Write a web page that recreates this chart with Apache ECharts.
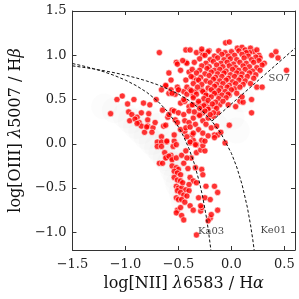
<!DOCTYPE html>
<html><head><meta charset="utf-8">
<script src="https://cdn.jsdelivr.net/npm/echarts@6/dist/echarts.min.js"></script>
<style>html,body{margin:0;padding:0;background:#fff}#c{width:299px;height:299px}</style>
</head><body><div id="c"></div>
<script>
// Axis ranges and ticks
var xTicks = [-1.5, -1.0, -0.5, 0.0, 0.5];
var yTicks = [-1.0, -0.5, 0.0, 0.5, 1.0, 1.5];

// Galaxies (red points): [log NII/Ha, log OIII/Hb]
var galaxies = [
[-1.14,0.34],[-1.08,0.50],[-1.03,0.54],[-0.92,0.50],[-0.98,0.45],[-0.97,0.36],[-0.94,0.33],[-0.89,0.30],[-0.85,0.35],[-0.78,0.34],[-0.83,0.46],[-0.77,0.44],
[-0.62,0.65],[-0.59,0.57],[-0.96,0.26],[-0.91,0.28],[-0.87,0.24],[-0.85,0.20],[-0.89,0.23],[-0.79,0.27],[-0.79,0.20],[-0.74,0.18],[-0.75,0.13],[-0.72,0.24],
[-0.82,0.13],[-0.80,0.19],[-0.64,0.20],[-0.66,0.08],[-0.70,0.02],[-0.66,0.02],[-0.70,-0.03],[-0.66,-0.03],[-0.61,0.02],[-0.63,-0.10],[-0.61,-0.15],[-0.57,-0.13],
[-0.56,-0.16],[-0.55,-0.03],[-0.60,0.30],[-0.56,0.38],
[-0.68,-0.22],[-0.65,-0.22],[-0.62,-0.16],[-0.59,-0.14],[-0.56,-0.18],[-0.52,-0.16],[-0.61,0.03],[-0.54,0.03],[-0.52,-0.01],
[-0.56,-0.25],[-0.52,-0.27],[-0.50,-0.29],[-0.54,-0.31],[-0.51,-0.33],[-0.48,-0.35],[-0.54,-0.38],[-0.51,-0.41],[-0.48,-0.42],
[-0.52,-0.48],[-0.50,-0.50],[-0.47,-0.50],[-0.43,-0.52],[-0.40,-0.53],[-0.51,-0.53],[-0.48,-0.55],[-0.45,-0.58],[-0.42,-0.59],
[-0.52,-0.61],[-0.50,-0.63],[-0.47,-0.63],[-0.51,-0.75],[-0.48,-0.72],[-0.52,-0.78],[-0.47,-0.81],[-0.45,-0.86],
[-0.39,-0.70],[-0.36,-0.75],[-0.29,-0.76],[-0.28,-0.72],[-0.25,-0.61],[-0.20,-0.63],[-0.31,-0.61],[-0.29,-0.70],
[-0.24,-0.48],[-0.16,-0.48],[-0.13,-0.55],[-0.13,-0.75],[-0.20,-0.84],[-0.22,-0.87],[-0.19,-0.80],[-0.33,-1.03],
[-0.39,-0.38],[-0.36,-0.42],[-0.33,-0.44],[-0.34,-0.27],[-0.28,-0.29],[-0.27,-0.35],
[-0.38,-0.16],[-0.33,-0.10],[-0.29,-0.07],[-0.25,-0.08],[-0.27,-0.02],[-0.33,-0.01],[-0.39,0.01],[-0.36,0.04],[-0.28,0.04],[-0.25,0.03],
[-0.47,-0.13],[-0.43,-0.08],[-0.42,-0.16],[-0.45,-0.22],[-0.41,-0.28],[-0.46,-0.44],[-0.44,-0.66],[-0.40,-0.46],
[-0.57,0.61],[-0.53,0.56],[-0.50,0.61],[-0.45,0.59],[-0.42,0.56],[-0.37,0.58],[-0.36,0.54],[-0.28,0.61],[-0.25,0.58],[-0.22,0.54],[-0.17,0.59],[-0.13,0.56],
[-0.48,0.46],[-0.44,0.48],[-0.40,0.42],[-0.36,0.44],[-0.31,0.46],[-0.28,0.42],[-0.24,0.46],[-0.21,0.41],[-0.16,0.42],[-0.11,0.44],
[-0.54,0.37],[-0.50,0.35],[-0.45,0.33],[-0.40,0.37],[-0.36,0.29],[-0.31,0.33],[-0.27,0.35],[-0.22,0.29],[-0.17,0.31],[-0.13,0.35],
[-0.53,0.27],[-0.44,0.26],[-0.40,0.24],[-0.34,0.22],[-0.27,0.26],[-0.24,0.22],[-0.19,0.18],[-0.14,0.20],
[-0.54,0.10],[-0.44,0.14],[-0.37,0.10],[-0.31,0.16],[-0.27,0.12],[-0.22,0.09],[-0.16,0.10],[-0.13,0.10],[-0.02,0.21],[-0.06,0.01],
[-0.62,0.21],[-0.51,0.24],[-0.48,0.16],[-0.43,0.18],[-0.39,0.19],[-0.36,0.12],[-0.42,0.08],[-0.39,0.02],[-0.34,-0.01],[-0.10,0.13],[-0.16,0.07],
[0.04,0.42],[0.08,0.48],[0.11,0.47],[0.19,0.35],[0.10,0.53],[0.19,0.50],[0.24,0.64],[0.29,0.64],[-0.02,0.55],
[-0.055,1.14],[-0.02,1.15],[0.056,1.08],[0.10,1.09],[0.13,1.06],[0.18,1.08],[0.21,1.04],[0.24,1.06],[0.17,1.03],[0.26,1.00],[0.27,0.97],[0.31,0.91],
[0.38,1.00],[0.42,1.04],[0.44,0.97],[0.52,0.83],
[-0.33,1.03],[-0.28,1.04],[-0.27,1.00],[-0.21,1.05],[-0.28,1.07],[-0.68,1.03],[-0.43,1.06],[-0.39,1.06],
[-0.52,0.92],[-0.51,0.90],[-0.43,0.92],[-0.42,0.91],[-0.46,0.94],[-0.48,0.83],[-0.40,0.81],[-0.59,0.80],[-0.57,0.72],[-0.43,0.72],[-0.36,0.75],[-0.33,0.72],
[-0.62,0.66],[-0.51,0.64],[-0.50,0.61],[-0.56,0.57],[-0.42,0.64],[-0.39,0.61],[-0.34,0.59],[-0.66,0.61],[-0.71,0.50],[-0.65,0.38],[-0.59,0.33],[-0.45,0.50],
[-0.22,1.04],[-0.12,1.05],[-0.06,1.03],[0.00,1.04],[0.07,1.05],[0.14,1.03],
[-0.25,1.00],[-0.16,0.99],[-0.09,1.01],[-0.03,0.99],[0.03,1.00],[0.10,1.01],[0.16,0.99],[0.23,0.98],
[-0.30,0.96],[-0.20,0.95],[-0.13,0.97],[-0.07,0.95],[-0.01,0.96],[0.05,0.95],[0.12,0.97],[0.19,0.95],[0.26,0.94],
[-0.35,0.92],[-0.24,0.91],[-0.17,0.93],[-0.10,0.91],[-0.04,0.92],[0.02,0.90],[0.08,0.92],[0.14,0.91],[0.21,0.92],[0.29,0.89],
[-0.28,0.88],[-0.21,0.87],[-0.14,0.89],[-0.08,0.87],[-0.02,0.88],[0.04,0.86],[0.11,0.88],[0.17,0.87],[0.24,0.86],
[-0.37,0.84],[-0.30,0.83],[-0.23,0.85],[-0.16,0.83],[-0.11,0.84],[-0.05,0.82],[0.01,0.84],[0.07,0.83],[0.13,0.84],[0.20,0.82],[0.27,0.83],
[-0.33,0.80],[-0.25,0.79],[-0.19,0.81],[-0.13,0.79],[-0.07,0.80],[-0.01,0.78],[0.05,0.80],[0.10,0.79],[0.17,0.80],[0.23,0.78],
[-0.38,0.76],[-0.29,0.75],[-0.21,0.77],[-0.15,0.75],[-0.09,0.76],[-0.03,0.74],[0.03,0.76],[0.09,0.75],[0.15,0.76],[0.21,0.74],
[-0.31,0.72],[-0.24,0.71],[-0.17,0.73],[-0.11,0.71],[-0.05,0.72],[0.01,0.70],[0.07,0.72],[0.13,0.71],
[-0.36,0.68],[-0.28,0.67],[-0.20,0.69],[-0.14,0.67],[-0.08,0.68],[-0.02,0.66],[0.04,0.68],[0.11,0.67],[0.18,0.68],
[-0.32,0.64],[-0.22,0.63],[-0.16,0.65],[-0.10,0.63],[-0.04,0.64],[0.03,0.62],[0.08,0.64],
[-0.38,0.60],[-0.27,0.59],[-0.19,0.61],[-0.12,0.60],[-0.06,0.59],[0.00,0.61],
[-0.33,0.56],[-0.24,0.55],[-0.16,0.57],[-0.09,0.55],[-0.03,0.56],[0.05,0.57],
[-0.36,0.52],[-0.26,0.51],[-0.19,0.53],[-0.12,0.51],[-0.05,0.52],
[-0.31,0.48],[-0.22,0.49],[-0.15,0.47],[-0.08,0.48],[-0.37,0.44],[-0.26,0.43],[-0.18,0.45],[-0.03,0.44],
[-0.30,0.40],[-0.22,0.39],[-0.14,0.40],[-0.35,0.36],[-0.25,0.37],[-0.17,0.35],[-0.30,0.32],[-0.20,0.33]
];

// Faint background galaxy cloud (grey haze)
var cloud = [
[-1.2,0.42],[-1.1,0.38],[-1.0,0.32],[-0.95,0.26],[-0.9,0.2],[-0.85,0.14],[-0.8,0.08],[-0.75,0.02],[-0.7,-0.04],[-0.66,-0.1],
[-0.62,-0.16],[-0.58,-0.22],[-0.55,-0.3],[-0.52,-0.38],[-0.5,-0.46],[-0.47,-0.55],[-0.45,-0.64],[-0.6,0.1],[-0.55,0.0],[-0.5,-0.1],
[-0.45,-0.2],[-0.4,0.1],[-0.35,0.25],[-0.3,0.4],[-0.2,0.5],[-0.1,0.6],[0.0,0.3],[0.1,0.5],[0.05,0.15],[-0.15,0.2],[-0.7,0.2],[-0.8,0.3]
];

// Demarcation curve sample abscissae
var ka03X = [-1.5,-1.4,-1.3,-1.2,-1.1,-1.0,-0.9,-0.8,-0.7,-0.6,-0.5,-0.45,-0.4,-0.35,-0.3,-0.27,-0.24,-0.22,-0.2,-0.194];
var ke01X = [-1.5,-1.4,-1.3,-1.2,-1.1,-1.0,-0.9,-0.8,-0.7,-0.6,-0.5,-0.4,-0.3,-0.2,-0.1,0.0,0.05,0.1,0.15,0.18,0.2,0.215];
var so7X = [-0.185, 0.6];
function ka03(x){return 0.61/(x-0.05)+1.3;}
function ke01(x){return 0.61/(x-0.47)+1.19;}
function so7(x){return 1.05*x+0.45;}

var labels = [{name:'SO7', value:[0.452,0.733]},{name:'Ka03', value:[-0.192,-0.985]},{name:'Ke01', value:[0.397,-0.975]}];

var serif = 'DejaVu Serif';
function fmt(v){return v.toFixed(1).replace('-', '\u2212');}
var axisLineStyle = {onZero:false, lineStyle:{color:'#333', width:1}};
var xTick = {inside:true, length:4, lineStyle:{color:'#333', width:1}, customValues:xTicks};
var yTick = {inside:true, length:4, lineStyle:{color:'#333', width:1}, customValues:yTicks};

var chart = echarts.init(document.getElementById('c'));
chart.setOption({
  animation:false,
  grid:{left:66, right:4, top:11, bottom:49},
  xAxis:[{
    type:'value', min:-1.5, max:0.6,
    axisLine:axisLineStyle, axisTick:xTick, splitLine:{show:false},
    axisLabel:{formatter:fmt, fontFamily:serif, fontSize:13, color:'#222', margin:8, customValues:xTicks},
    name:'log[NII] {i|λ}6583 / H{i|α}', nameLocation:'middle', nameGap:25,
    nameTextStyle:{fontFamily:serif, fontSize:16, color:'#111', rich:{i:{fontFamily:serif, fontStyle:'italic', fontSize:16, color:'#111'}}}
  },{
    type:'value', position:'top', min:-1.5, max:0.6,
    axisLine:axisLineStyle, axisTick:xTick, axisLabel:{show:false}, splitLine:{show:false}
  }],
  yAxis:[{
    type:'value', min:-1.2, max:1.5,
    axisLine:axisLineStyle, axisTick:yTick, splitLine:{show:false},
    axisLabel:{formatter:fmt, fontFamily:serif, fontSize:13, color:'#222', margin:6, customValues:yTicks},
    name:'log[OIII] {i|λ}5007 / H{i|β}', nameLocation:'middle', nameGap:46, nameRotate:90,
    nameTextStyle:{fontFamily:serif, fontSize:16, color:'#111', rich:{i:{fontFamily:serif, fontStyle:'italic', fontSize:16, color:'#111'}}}
  },{
    type:'value', position:'right', min:-1.2, max:1.5,
    axisLine:axisLineStyle, axisLabel:{show:false}, splitLine:{show:false}, axisTick:yTick
  }],
  series:[
    {type:'scatter', data:cloud, symbolSize:26, silent:true, z:1,
     itemStyle:{color:'#aaa', opacity:0.03}},
    {type:'scatter', data:galaxies, symbolSize:6.2, z:2,
     itemStyle:{color:'#ff0000', borderColor:'#ffffff', borderWidth:0.7}},
    {type:'line', data:ka03X.map(function(x){return [x, ka03(x)];}), showSymbol:false, symbol:'none', smooth:false, z:5,
     lineStyle:{color:'#111', width:1, type:[3,2]}},
    {type:'line', data:ke01X.map(function(x){return [x, ke01(x)];}), showSymbol:false, symbol:'none', smooth:false, z:5,
     lineStyle:{color:'#111', width:1, type:[3,2]}},
    {type:'line', data:so7X.map(function(x){return [x, so7(x)];}), showSymbol:false, symbol:'none', z:5,
     lineStyle:{color:'#111', width:1, type:[3,2]}},
    {type:'scatter', data:labels, symbolSize:0, silent:true, z:6,
     label:{show:true, position:'inside', formatter:'{b}', fontFamily:serif, fontSize:10, color:'#111'}}
  ]
});
</script></body></html>
